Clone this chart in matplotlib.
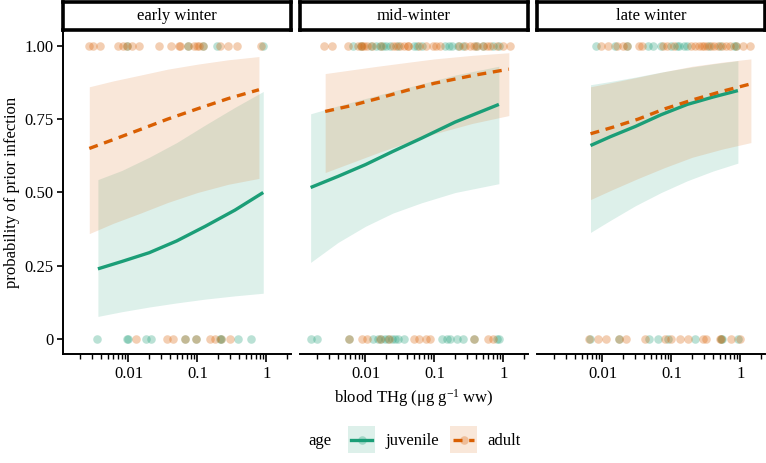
import numpy as np
import matplotlib
matplotlib.use("Agg")
import matplotlib.pyplot as plt
from matplotlib.ticker import LogLocator, FixedLocator, NullFormatter

plt.rcParams["font.family"] = ["Liberation Serif", "DejaVu Serif"]
plt.rcParams["mathtext.fontset"] = "custom"
plt.rcParams["mathtext.rm"] = "Liberation Serif"
plt.rcParams["mathtext.it"] = "Liberation Serif:italic"

# ── Data ──────────────────────────────────────────────────────────────────────
panels = ["early winter", "mid-winter", "late winter"]
ages = ["juvenile", "adult"]

# fitted curves: blood THg, fitted probability, lower / upper CI
early_juv_x   = [0.0036, 0.008, 0.02, 0.05, 0.13, 0.35, 0.9]
early_juv_fit = [0.24, 0.265, 0.295, 0.335, 0.385, 0.44, 0.50]
early_juv_lo  = [0.078, 0.094, 0.11, 0.124, 0.137, 0.148, 0.157]
early_juv_hi  = [0.544, 0.575, 0.62, 0.67, 0.73, 0.79, 0.844]

early_ad_x    = [0.0027, 0.006, 0.015, 0.037, 0.1, 0.28, 0.78]
early_ad_fit  = [0.65, 0.68, 0.715, 0.75, 0.785, 0.82, 0.85]
early_ad_lo   = [0.36, 0.395, 0.43, 0.466, 0.50, 0.528, 0.548]
early_ad_hi   = [0.86, 0.88, 0.90, 0.92, 0.937, 0.952, 0.963]

mid_juv_x     = [0.0016, 0.004, 0.01, 0.025, 0.065, 0.2, 0.86]
mid_juv_fit   = [0.517, 0.555, 0.595, 0.64, 0.685, 0.74, 0.80]
mid_juv_lo    = [0.262, 0.33, 0.385, 0.43, 0.465, 0.50, 0.53]
mid_juv_hi    = [0.768, 0.795, 0.82, 0.845, 0.87, 0.90, 0.93]

mid_ad_x      = [0.0026, 0.006, 0.015, 0.04, 0.1, 0.35, 1.2]
mid_ad_fit    = [0.776, 0.795, 0.82, 0.848, 0.872, 0.898, 0.92]
mid_ad_lo     = [0.568, 0.60, 0.635, 0.67, 0.70, 0.735, 0.762]
mid_ad_hi     = [0.905, 0.917, 0.93, 0.943, 0.955, 0.967, 0.976]

late_juv_x    = [0.0067, 0.013, 0.03, 0.071, 0.17, 0.4, 0.92]
late_juv_fit  = [0.66, 0.69, 0.725, 0.765, 0.80, 0.825, 0.847]
late_juv_lo   = [0.364, 0.405, 0.455, 0.50, 0.54, 0.573, 0.60]
late_juv_hi   = [0.867, 0.878, 0.893, 0.91, 0.925, 0.938, 0.949]

late_ad_x     = [0.0067, 0.014, 0.033, 0.08, 0.2, 0.55, 1.42]
late_ad_fit   = [0.70, 0.722, 0.75, 0.785, 0.815, 0.845, 0.87]
late_ad_lo    = [0.476, 0.51, 0.548, 0.585, 0.62, 0.648, 0.67]
late_ad_hi    = [0.86, 0.875, 0.893, 0.912, 0.93, 0.944, 0.955]

# observations: blood THg of birds with (1) / without (0) prior infection
early_juv_pos = [0.0096, 0.072, 0.12, 0.19, 0.88]
early_ad_pos  = [0.0027, 0.0031, 0.0038, 0.0071, 0.0084, 0.0096, 0.0113, 0.014,
                 0.0275, 0.041, 0.054, 0.056, 0.072, 0.09, 0.1, 0.105, 0.12,
                 0.21, 0.28, 0.37, 0.84]
early_juv_neg = [0.0035, 0.0095, 0.0098, 0.018, 0.021, 0.065, 0.096, 0.21,
                 0.22, 0.39, 0.6]
early_ad_neg  = [0.013, 0.036, 0.044, 0.065, 0.096, 0.15, 0.18, 0.22, 0.30]

mid_juv_pos   = [0.0065, 0.0085, 0.012, 0.014, 0.016, 0.018, 0.02, 0.023, 0.03,
                 0.05, 0.055, 0.065, 0.14, 0.16, 0.18, 0.22, 0.26, 0.4, 0.5,
                 0.7, 0.85]
mid_ad_pos    = [0.0025, 0.0033, 0.0055, 0.0078, 0.0085, 0.009, 0.0095, 0.0105,
                 0.0125, 0.017, 0.025, 0.028, 0.032, 0.036, 0.041, 0.042, 0.06,
                 0.075, 0.095, 0.105, 0.12, 0.23, 0.28, 0.33, 0.38, 0.42, 0.5,
                 0.57, 0.65, 0.8, 1.0, 1.25]
mid_juv_neg   = [0.0016, 0.002, 0.0057, 0.013, 0.015, 0.017, 0.019, 0.021,
                 0.024, 0.027, 0.03, 0.036, 0.13, 0.15, 0.17, 0.21, 0.26, 0.37,
                 0.8, 0.86]
mid_ad_neg    = [0.0057, 0.009, 0.0105, 0.016, 0.022, 0.05, 0.06, 0.075, 0.087,
                 0.37, 0.6, 0.7]

late_juv_pos  = [0.008, 0.015, 0.023, 0.046, 0.054, 0.07, 0.1, 0.12, 0.13,
                 0.15, 0.17, 0.35, 0.5, 0.8, 0.85]
late_ad_pos   = [0.0095, 0.012, 0.016, 0.02, 0.023, 0.034, 0.038, 0.075, 0.085,
                 0.11, 0.19, 0.22, 0.25, 0.28, 0.3, 0.33, 0.37, 0.42, 0.48,
                 0.55, 0.62, 0.7, 0.85, 1.1, 1.4]
late_juv_neg  = [0.0065, 0.0175, 0.047, 0.064, 0.09, 0.22, 0.52, 0.55, 0.92]
late_ad_neg   = [0.0064, 0.0085, 0.0112, 0.0175, 0.022, 0.042, 0.08, 0.1,
                 0.133, 0.175, 0.29, 0.32, 0.5, 0.53, 0.72, 1.0]

curves = {
    ("early winter", "juvenile"): (early_juv_x, early_juv_fit, early_juv_lo, early_juv_hi),
    ("early winter", "adult"):    (early_ad_x, early_ad_fit, early_ad_lo, early_ad_hi),
    ("mid-winter", "juvenile"):   (mid_juv_x, mid_juv_fit, mid_juv_lo, mid_juv_hi),
    ("mid-winter", "adult"):      (mid_ad_x, mid_ad_fit, mid_ad_lo, mid_ad_hi),
    ("late winter", "juvenile"):  (late_juv_x, late_juv_fit, late_juv_lo, late_juv_hi),
    ("late winter", "adult"):     (late_ad_x, late_ad_fit, late_ad_lo, late_ad_hi),
}
points = {
    ("early winter", "juvenile"): (early_juv_pos, early_juv_neg),
    ("early winter", "adult"):    (early_ad_pos, early_ad_neg),
    ("mid-winter", "juvenile"):   (mid_juv_pos, mid_juv_neg),
    ("mid-winter", "adult"):      (mid_ad_pos, mid_ad_neg),
    ("late winter", "juvenile"):  (late_juv_pos, late_juv_neg),
    ("late winter", "adult"):     (late_ad_pos, late_ad_neg),
}

colors = {"juvenile": "#1b9e77", "adult": "#d95f02"}
styles = {"juvenile": "-", "adult": (0, (2.7, 2.0))}

# ── Figure ────────────────────────────────────────────────────────────────────
W, H = 766, 463
fig = plt.figure(figsize=(W / 100, H / 100), dpi=100)

def fx(px):
    return px / W

def fy(py):
    return 1 - py / H

panel_left = [63, 300, 537]
panel_w = 228
ax_top, ax_bot = 31, 354
strip_top = 2
fs = 12

xlim = (10 ** -2.95, 10 ** 0.357)

for i, name in enumerate(panels):
    left = panel_left[i]
    ax = fig.add_axes([fx(left), fy(ax_bot), fx(panel_w), (ax_bot - ax_top) / H])
    ax.set_xscale("log")

    for age in ages:
        x, fit, lo, hi = curves[(name, age)]
        ax.fill_between(x, lo, hi, color=colors[age], alpha=0.15, linewidth=0)
    for age in ages:
        x, fit, lo, hi = curves[(name, age)]
        ax.plot(x, fit, color=colors[age], linestyle=styles[age], linewidth=2.4,
                solid_capstyle="butt", dash_capstyle="butt")
    for age in ages:
        pos, neg = points[(name, age)]
        ax.scatter(pos, np.ones(len(pos)), s=38, color=colors[age], alpha=0.3,
                   linewidths=0)
        ax.scatter(neg, np.zeros(len(neg)), s=38, color=colors[age], alpha=0.3,
                   linewidths=0)

    ax.set_xlim(xlim)
    ax.set_ylim(-0.05, 1.05)
    for s in ["top", "right"]:
        ax.spines[s].set_visible(False)
    ax.spines["bottom"].set_linewidth(1.4)
    ax.spines["left"].set_linewidth(1.4)

    ax.xaxis.set_major_locator(FixedLocator([0.01, 0.1, 1]))
    ax.xaxis.set_minor_locator(LogLocator(base=10, subs=np.arange(2, 10), numticks=20))
    ax.xaxis.set_minor_formatter(NullFormatter())
    ax.set_xticklabels(["0.01", "0.1", "1"])
    ax.tick_params(axis="x", which="major", length=6, width=1.2, labelsize=fs, pad=3)
    ax.tick_params(axis="x", which="minor", length=3.5, width=1.0)

    ax.set_yticks([0, 0.25, 0.5, 0.75, 1.0])
    if i == 0:
        ax.set_yticklabels(["0", "0.25", "0.50", "0.75", "1.00"])
        ax.tick_params(axis="y", length=4, width=1.2, labelsize=fs, pad=3)
    else:
        ax.spines["left"].set_visible(False)
        ax.tick_params(axis="y", left=False, labelleft=False)

    # facet strip
    sax = fig.add_axes([fx(left), fy(ax_top - 1), fx(panel_w), (ax_top - 1 - strip_top) / H])
    sax.set_xticks([])
    sax.set_yticks([])
    for s in sax.spines.values():
        s.set_linewidth(2.6)
    sax.text(0.5, 0.5, name, ha="center", va="center", fontsize=fs,
             transform=sax.transAxes)

fig.text(fx(12), fy(192), "probability of prior infection", rotation=90,
         ha="center", va="center", fontsize=fs)
fig.text(fx(414), fy(398), r"blood THg (μg g$^{-1}$ ww)", ha="center",
         va="center", fontsize=fs)

# ── Legend ────────────────────────────────────────────────────────────────────
fig.text(fx(308), fy(441), "age", ha="left", va="center", fontsize=fs)
key_pos = {"juvenile": 348, "adult": 450}
for age in ages:
    kx = key_pos[age]
    kax = fig.add_axes([fx(kx), fy(453), fx(27), 27 / H])
    kax.set_xlim(0, 1)
    kax.set_ylim(0, 1)
    kax.axis("off")
    kax.fill_between([0, 1], 0, 1, color=colors[age], alpha=0.15, linewidth=0)
    kax.plot([0.1, 0.9], [0.5, 0.5], color=colors[age], linestyle=styles[age],
             linewidth=2.4, dash_capstyle="butt")
    kax.scatter([0.5], [0.5], s=38, color=colors[age], alpha=0.3, linewidths=0)
    fig.text(fx(kx + 37), fy(441), age, ha="left", va="center", fontsize=fs)

plt.savefig("out.png", dpi=100)
